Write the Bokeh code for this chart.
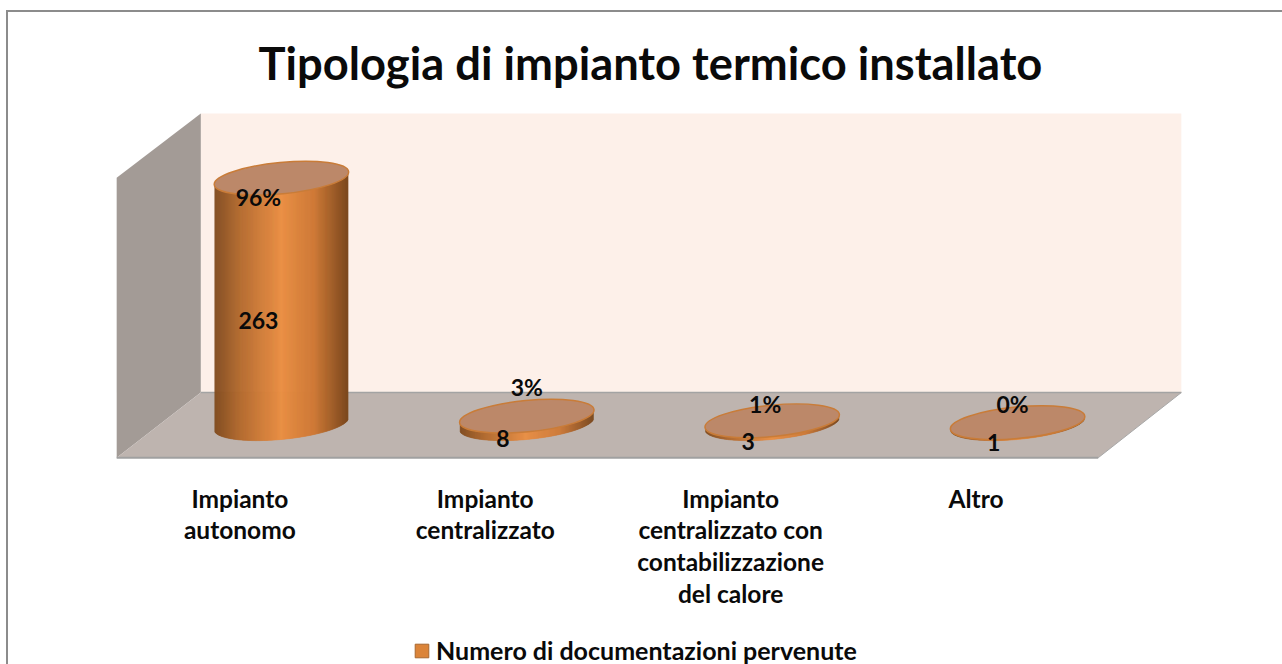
import numpy as np
from bokeh.plotting import figure
from bokeh.models import (Range1d, LinearAxis, FixedTicker, Legend, LegendItem, ColumnDataSource)
from bokeh.core.properties import value
from bokeh.embed import file_html
from bokeh.resources import INLINE

categories = ["Impianto\nautonomo", "Impianto\ncentralizzato",
              "Impianto\ncentralizzato con\ncontabilizzazione\ndel calore", "Altro"]
counts = [263, 8, 3, 1]
shares = ["96%", "3%", "1%", "0%"]
series_name = "Numero di documentazioni pervenute"
title_text = "Tipologia di impianto termico installato"

# page-pixel position of the figure's canvas (just inside its border)
CX, CY = 8, 12
SX, SY = 1, 1
W, H = 1282 - CX, 664 - CY
TOP = 100
X0, DX = 281.5, 245.0
Y0, DY = 423.0, 0.93
FONT = "Lato"

def xd(px): return (np.asarray(px, float) - X0) / DX
def yd(py): return (Y0 - np.asarray(py, float)) / DY

p = figure(width=W, height=H, output_backend="svg", toolbar_location=None,
           x_range=Range1d(float(xd(CX + SX)), float(xd(CX + W + SX))),
           y_range=Range1d(float(yd(CY + H + SY)), float(yd(TOP + SY))),
           min_border=0, min_border_top=TOP - CY, outline_line_color=None,
           border_fill_color="white", background_fill_color="white",
           margin=(10, 0, 0, 6),
           styles={"border-left": "2px solid #8c8c8c", "border-top": "2px solid #8c8c8c",
                   "box-sizing": "content-box"})
p.xaxis.visible = False
p.yaxis.visible = False
p.grid.visible = False

p.title.text = title_text
p.title.text_font = FONT
p.title.text_font_size = "45.3px"
p.title.text_font_style = "bold"
p.title.text_color = "#0a0a0a"
p.title.align = "left"
p.title.offset = 258 - CX
p.title.standoff = 22

# 3D walls
wall_x = [[201, 1180, 1180, 201], [117, 201, 201, 117], [117, 201, 1180, 1097]]
wall_y = [[114, 114, 392, 392], [178, 114, 392, 457], [457, 392, 392, 457]]
p.patches([xd(a) for a in wall_x], [yd(a) for a in wall_y],
          fill_color=["#FDF0E9", "#A39B96", "#BEB4AF"], line_color=None)
p.line(xd([201, 1180]), yd([392, 392]), line_color="#a3a3a3", line_width=1.5)
p.line(xd([117, 1097]), yd([457, 457]), line_color="#a0a0a0", line_width=2)
p.line(xd([1097, 1180]), yd([457, 392]), line_color="#a8a8a8", line_width=1)

# cylinders
A, B, T = 67.5, 15.7, np.radians(5.5)
u = np.linspace(0, 2 * np.pi, 361)
ex = A * np.cos(u) * np.cos(T) - B * np.sin(u) * np.sin(T)
ey = A * np.cos(u) * np.sin(T) + B * np.sin(u) * np.cos(T)
low = ey < ex * np.tan(T)
order = np.argsort(ex[low])
lx, ly = ex[low][order], ey[low][order]

stops_p = [-1, -0.6, 0, 0.5, 1]
stops_c = [(128, 76, 32), (182, 108, 48), (234, 143, 68), (206, 122, 56), (122, 72, 30)]
def shade(t):
    c = [np.interp(t, stops_p, [s[k] for s in stops_c]) for k in range(3)]
    return "#%02x%02x%02x" % tuple(int(v) for v in c)

sx, sy, sc = [], [], []
edges = np.arange(-66.5, 67, 1.0)
for i, v in enumerate(counts):
    for a, b in zip(edges[:-1], edges[1:]):
        ya, yb = np.interp([a, b], lx, ly)
        sx.append(list(i + np.array([a, b, b, a]) / DX))
        sy.append([v + np.tan(T) * a / DY, v + np.tan(T) * b / DY, yb / DY, ya / DY])
        sc.append(shade((a + b) / 2 / 67))
p.patches(sx, sy, fill_color=sc, line_color=sc, line_width=0.6)

idx = list(range(len(counts)))
p.ellipse(idx, counts, width=2 * A, height=2 * B, angle=np.degrees(T), angle_units="deg",
          width_units="screen", height_units="screen",
          fill_color="#BC8869", line_color="#C97C38", line_width=1.5)

# value labels
lab_dx = [-23, -24, -24, -24]
lab_dy = [-103, 15, 18, 19]
pct_dx = [-23, 0, -7, -5]
pct_dy = [-226.5, -37, -20, -20]
label_font = dict(text_font=value(FONT), text_font_style="bold", text_font_size="23px",
                  text_color="#0a0a0a", text_align="center", text_baseline="middle")
src = ColumnDataSource(dict(x=idx, base=[0] * 4, y=counts,
                            c=[str(c) for c in counts], s=shares,
                            lx=lab_dx, ly=lab_dy,
                            px=pct_dx, py=pct_dy))
p.text("x", "base", text="c", x_offset="lx", y_offset="ly", source=src, **label_font)
p.text("x", "base", text="s", x_offset="px", y_offset="py", source=src, **label_font)

# category labels on their own shifted scale
p.extra_x_ranges["labels"] = Range1d(float(xd(CX + SX)) + 41.5 / DX, float(xd(CX + W + SX)) + 41.5 / DX)
ax = LinearAxis(x_range_name="labels", ticker=FixedTicker(ticks=idx),
                major_label_overrides={i: c for i, c in enumerate(categories)},
                axis_line_color=None, major_tick_line_color=None, minor_tick_line_color=None,
                major_label_text_font=FONT, major_label_text_font_size="24.5px",
                major_label_text_font_style="bold", major_label_text_color="#0a0a0a",
                major_label_standoff=20, major_label_text_line_height=1.09)
ax.fixed_location = float(yd(457))
p.add_layout(ax, "below")

# legend
nan = float("nan")
r = p.quad(left=[nan], right=[nan], top=[nan], bottom=[nan], fill_color="#DB8439", line_color="#A9682F")
leg = Legend(items=[LegendItem(label=series_name, renderers=[r])],
             location=(405, 1), orientation="horizontal",
             background_fill_alpha=0, border_line_color=None,
             label_text_font=FONT, label_text_font_size="25px", label_text_font_style="bold",
             label_text_color="#0a0a0a", glyph_width=17, glyph_height=17, label_standoff=6,
             margin=0, padding=0)
p.add_layout(leg, "center")

open("out.html", "w").write(file_html(p, INLINE))
